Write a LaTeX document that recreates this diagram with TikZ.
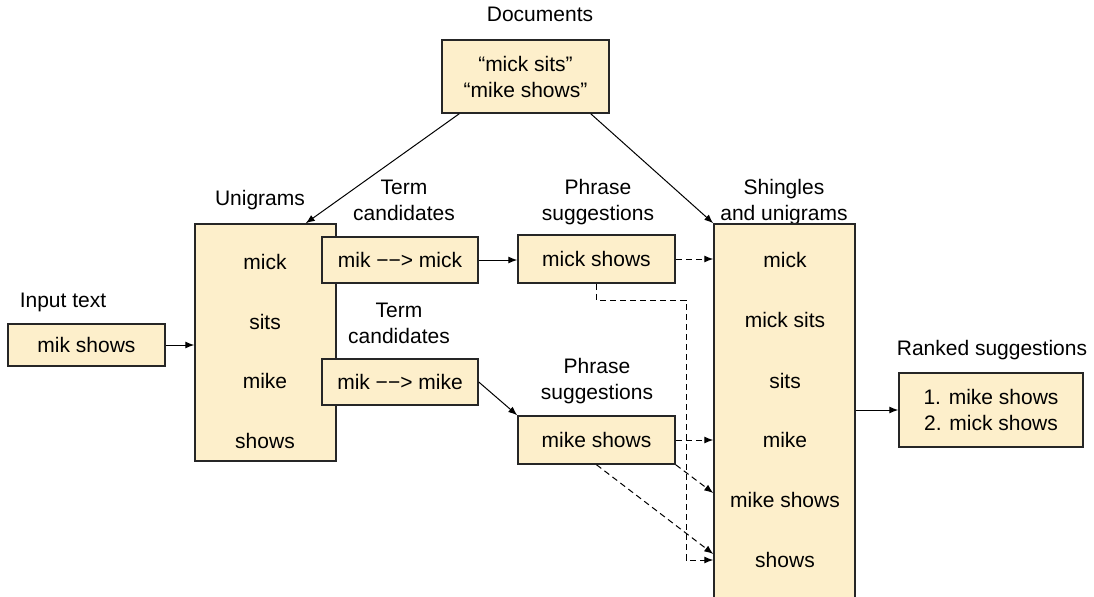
\documentclass[tikz,border=0pt]{standalone}
\usepackage{fontspec}
\setmainfont{Liberation Sans}
\usetikzlibrary{arrows.meta}
\definecolor{boxfill}{HTML}{FDEFCB}
\tikzset{
  box/.style={draw=black!85, line width=0.75pt, fill=boxfill, inner sep=0pt, align=center},
  lbl/.style={align=center},
  flow/.style={-{Latex[length=4.5pt,width=3.5pt]}, line width=0.5pt},
  hint/.style={flow, dash pattern=on 3pt off 2pt},
}

\begin{document}
\begin{tikzpicture}[x=0.5pt, y=-0.5pt, font=\fontsize{10.5}{13}\selectfont]
        \useasboundingbox (0,0) rectangle (1094,596);
        % Documents
        \node[lbl] (docsLbl) at (540,14) {Documents};
        \node[box, minimum width=83.5pt, minimum height=36.5pt] (docs) at (525.5,76.5) {“mick sits”\\“mike shows”};
        % Input text
        \node[lbl] (inputLbl) at (63,302) {Input text};
        \node[box, minimum width=78.5pt, minimum height=21pt] (input) at (86.5,345) {mik shows};
        % Unigrams
        \node[lbl] (uniLbl) at (260,200) {Unigrams};
        \node[box, minimum width=70.5pt, minimum height=118.5pt] (unigrams) at (265.5,342.5) {};
        \node (uMick) at (265,262) {mick};
        \node (uSits) at (265,322) {sits};
        \node (uMike) at (265,381) {mike};
        \node (uShows) at (265,441) {shows};
        % Term candidates
        \node[lbl] (termLblA) at (404,200) {Term\\candidates};
        \node[box, minimum width=78pt, minimum height=23pt] (termA) at (400,260) {mik −−> mick};
        \node[lbl] (termLblB) at (399,323) {Term\\candidates};
        \node[box, minimum width=78pt, minimum height=23pt] (termB) at (400,382) {mik −−> mike};
        % Phrase suggestions
        \node[lbl] (phraseLblA) at (598,202) {Phrase\\suggestions};
        \node[box, minimum width=78.5pt, minimum height=24pt] (phraseA) at (596.5,259) {mick shows};
        \node[lbl] (phraseLblB) at (597,381) {Phrase\\suggestions};
        \node[box, minimum width=78.5pt, minimum height=24pt] (phraseB) at (596.5,440) {mike shows};
        % Shingles and unigrams
        \node[lbl] (shingLbl) at (784,202) {Shingles\\and unigrams};
        \node[box, minimum width=70.5pt, minimum height=188pt] (shingles) at (784.5,412) {};
        \node (sMick) at (785,260) {mick};
        \node (sMickSits) at (785,320) {mick sits};
        \node (sSits) at (785,381) {sits};
        \node (sMike) at (785,440) {mike};
        \node (sMikeShows) at (785,500) {mike shows};
        \node (sShows) at (785,560) {shows};
        % Ranked suggestions
        \node[lbl] (rankLbl) at (992,350) {Ranked suggestions};
        \node[box, minimum width=92pt, minimum height=37pt] (ranked) at (991,410) {1. mike shows\\2. mick shows};
        % Arrows
        \draw[flow] ([xshift=9pt]docs.south west) -- ([xshift=-15.5pt]unigrams.north east);
        \draw[flow] ([xshift=-9.5pt]docs.south east) -- (shingles.north west);
        \draw[flow] (input.east) -- (input.east -| unigrams.west);
        \draw[flow] (termA.east) -- (termA.east -| phraseA.west);
        \draw[flow] (termB.east) -- (phraseB.north west);
        \draw[flow] (shingles.east |- ranked.west) -- (ranked.west);
        % Dashed lookups
        \coordinate (elbow) at (686,300);
        \draw[hint] (phraseA.east) -- (phraseA.east -| shingles.west);
        \draw[hint] (phraseA.south) |- (elbow) -- (elbow |- sShows) -- (sShows -| shingles.west);
        \draw[hint] (phraseB.east) -- (phraseB.east -| shingles.west);
        \draw[hint] (phraseB.south east) -- ([yshift=3.5pt]shingles.west |- sMikeShows);
        \draw[hint] (phraseB.south) -- ([yshift=3pt]shingles.west |- sShows);
    \end{tikzpicture}
\end{document}
